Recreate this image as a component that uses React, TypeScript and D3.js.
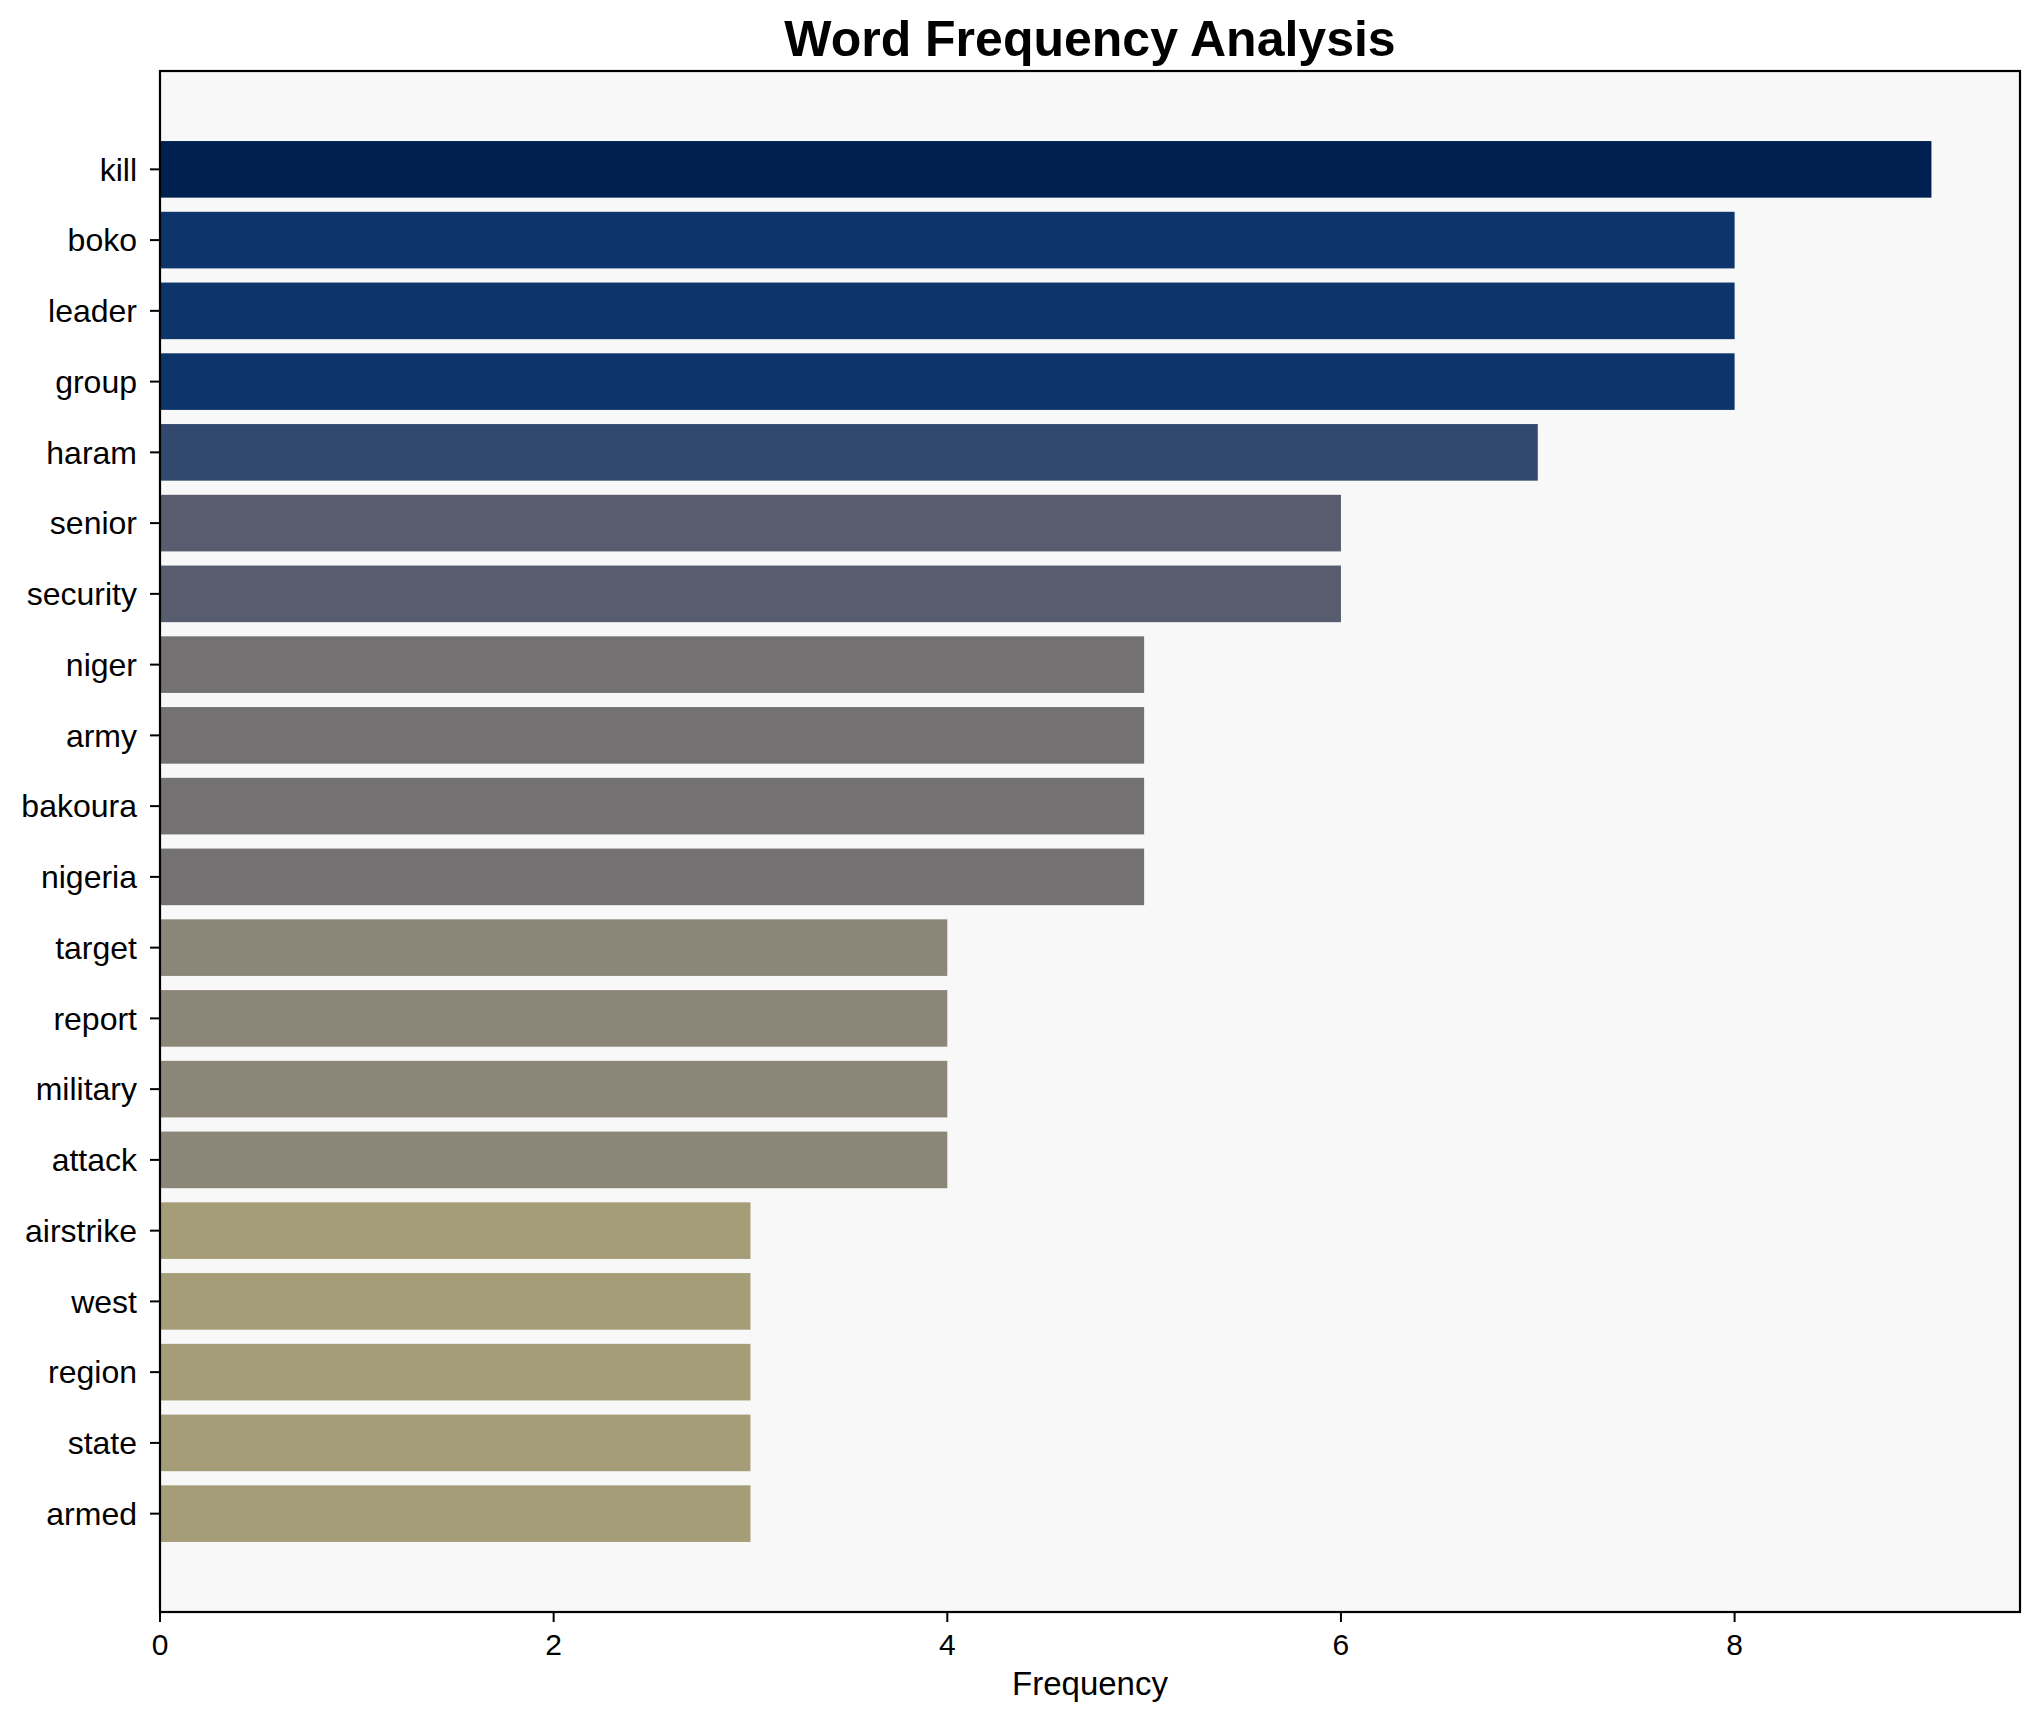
import React from 'react';
import * as d3 from 'd3';

const words = [
  'kill', 'boko', 'leader', 'group', 'haram', 'senior', 'security', 'niger', 'army', 'bakoura',
  'nigeria', 'target', 'report', 'military', 'attack', 'airstrike', 'west', 'region', 'state', 'armed',
];
const counts = [9, 8, 8, 8, 7, 6, 6, 5, 5, 5, 5, 4, 4, 4, 4, 3, 3, 3, 3, 3];
const xTicks = [0, 2, 4, 6, 8];

const W = 2039;
const H = 1722;
const m = { left: 160, right: 19, top: 71, bottom: 110 };

export default function App() {
  const innerW = W - m.left - m.right;
  const innerH = H - m.top - m.bottom;
  const maxV = d3.max(counts) || 1;

  const x = d3.scaleLinear().domain([0, maxV * 1.05]).range([0, innerW]);
  // matplotlib-like categorical axis: bars at 0..n-1, height 0.8, 5% margins
  const n = words.length;
  const lo = -0.4 - 0.05 * (n - 1 + 0.8);
  const hi = n - 1 + 0.4 + 0.05 * (n - 1 + 0.8);
  const y = d3.scaleLinear().domain([lo, hi]).range([0, innerH]);
  const color = (v: number) => d3.interpolateCividis(1 - v / maxV);
  const font = '"Liberation Sans", Arial, sans-serif';

  return (
    <svg width={W} height={H} style={{ display: 'block', margin: -8 }} fontFamily={font}>
      <rect width={W} height={H} fill="#ffffff" />
      <text x={m.left + innerW / 2} y={56} textAnchor="middle" fontSize={50} fontWeight="bold">
        Word Frequency Analysis
      </text>
      <g transform={`translate(${m.left},${m.top})`}>
        <rect width={innerW} height={innerH} fill="#f8f8f8" />
        {words.map((w, i) => (
          <rect
            key={w}
            x={x(0)}
            y={y(i - 0.4)}
            width={x(counts[i]) - x(0)}
            height={y(i + 0.4) - y(i - 0.4)}
            fill={color(counts[i])}
          />
        ))}
        {words.map((w, i) => (
          <g key={w} transform={`translate(0,${y(i)})`}>
            <line x1={-10} x2={0} stroke="#000" strokeWidth={2} />
            <text x={-23} dy="0.35em" textAnchor="end" fontSize={32}>{w}</text>
          </g>
        ))}
        {xTicks.map((t) => (
          <g key={t} transform={`translate(${x(t)},${innerH})`}>
            <line y1={0} y2={10} stroke="#000" strokeWidth={2} />
            <text y={43} textAnchor="middle" fontSize={30}>{t}</text>
          </g>
        ))}
        <rect width={innerW} height={innerH} fill="none" stroke="#000" strokeWidth={2.2} />
        <text x={innerW / 2} y={innerH + 83} textAnchor="middle" fontSize={33}>Frequency</text>
      </g>
    </svg>
  );
}
